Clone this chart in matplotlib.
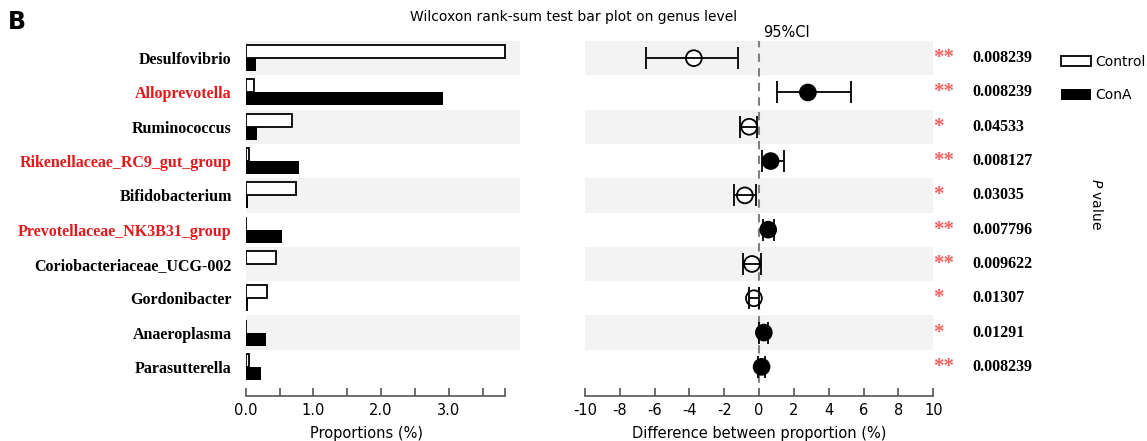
import numpy as np
import matplotlib
matplotlib.use('Agg')
import matplotlib.pyplot as plt

plt.rcParams['axes.unicode_minus'] = False

# genus-level Wilcoxon rank-sum results, Control vs ConA
genera = ['Desulfovibrio', 'Alloprevotella', 'Ruminococcus',
          'Rikenellaceae_RC9_gut_group', 'Bifidobacterium',
          'Prevotellaceae_NK3B31_group', 'Coriobacteriaceae_UCG-002',
          'Gordonibacter', 'Anaeroplasma', 'Parasutterella']
highlight = ['Alloprevotella', 'Rikenellaceae_RC9_gut_group',
             'Prevotellaceae_NK3B31_group']

# mean proportions (%)
control = [3.83, 0.12, 0.68, 0.05, 0.75, 0.01, 0.45, 0.32, 0.01, 0.05]
cona = [0.15, 2.91, 0.17, 0.78, 0.03, 0.54, 0.0, 0.03, 0.30, 0.23]

# difference between proportions with 95% CI
diff = [-3.75, 2.80, -0.57, 0.66, -0.82, 0.52, -0.41, -0.30, 0.27, 0.14]
ci_low = [-6.50, 1.00, -1.10, 0.14, -1.43, 0.25, -0.92, -0.58, 0.02, -0.05]
ci_high = [-1.24, 5.27, -0.10, 1.42, -0.19, 0.85, 0.10, 0.00, 0.50, 0.35]

pvals = ['0.008239', '0.008239', '0.04533', '0.008127', '0.03035',
         '0.007796', '0.009622', '0.01307', '0.01291', '0.008239']

SERIF = 'Liberation Serif'
BAND = '#f3f3f3'
AXCOL = '#555555'

y = np.arange(len(genera))
diff = np.array(diff)
xerr = np.vstack([diff - np.array(ci_low), np.array(ci_high) - diff])

fig = plt.figure(figsize=(11.47, 4.41), dpi=100)
ax1 = fig.add_axes([0.2142, 0.102, 0.2391, 0.805])
ax2 = fig.add_axes([0.5100, 0.102, 0.3037, 0.805])

for ax in (ax1, ax2):
    for i in y[::2]:
        ax.axhspan(i - 0.5, i + 0.5, color=BAND, lw=0, zorder=0)
    ax.set_ylim(9.85, -0.5)
    for s in ('top', 'right', 'left'):
        ax.spines[s].set_visible(False)
    ax.spines['bottom'].set_color(AXCOL)
    ax.spines['bottom'].set_linewidth(1.2)
    ax.tick_params(axis='x', direction='in', length=6, width=1.2,
                   color=AXCOL, labelsize=10.5, pad=5)

# ---- left: proportions
b_ctrl = ax1.barh(y - 0.19, control, height=0.38, color='white',
                  edgecolor='black', lw=1.3, zorder=2)
b_cona = ax1.barh(y + 0.19, cona, height=0.38, color='black', lw=0, zorder=2)

xmax = max(max(control), max(cona))
ticks = list(np.arange(0, 3.6, 0.5)) + [xmax]
ax1.set_xlim(0, 4.05)
ax1.spines['bottom'].set_bounds(0, xmax)
ax1.set_xticks(ticks)
ax1.set_xticklabels(['%.1f' % t if (t == int(t) and t < xmax) else ''
                     for t in ticks])
ax1.set_xlabel('Proportions (%)', fontsize=10.5, labelpad=0)
ax1.xaxis.set_label_coords(0.44, -0.085)

ax1.set_yticks(y)
ax1.set_yticklabels(genera, fontfamily=SERIF, fontweight='bold', fontsize=11.5)
ax1.tick_params(axis='y', length=0, pad=10)
for lab, g in zip(ax1.get_yticklabels(), genera):
    lab.set_color('#e3191c' if g in highlight else 'black')

# ---- right: difference with CI
ax2.set_xlim(-10, 10)
ax2.set_xticks(np.arange(-10, 11, 2))
ax2.set_yticks([])
ax2.set_xlabel('Difference between proportion (%)', fontsize=10.5, labelpad=0)
ax2.xaxis.set_label_coords(0.5, -0.085)

ax2.vlines(0, -0.55, 9.6, colors='#808080', linestyles=(0, (4, 3)),
           lw=1.5, zorder=1)
face = ['white' if d < 0 else 'black' for d in diff]
ax2.scatter(diff, y, s=130, c=face, edgecolors='black', linewidths=1.3,
            zorder=2)
ax2.errorbar(diff, y, xerr=xerr, fmt='none', ecolor='black', elinewidth=1.3,
             capsize=8, capthick=1.3, zorder=3)
ax2.text(0.2, -0.62, '95%CI', fontsize=10.5, ha='left', va='baseline')

for i, p in zip(y, pvals):
    stars = '**' if float(p) < 0.01 else '*'
    ax2.annotate(stars, xy=(1.0, i), xycoords=('axes fraction', 'data'),
                 fontsize=15, fontweight='bold', fontfamily=SERIF,
                 color='#f06262', ha='left', va='center')
    ax2.annotate(p, xy=(1.111, i), xycoords=('axes fraction', 'data'),
                 fontsize=11.5, fontweight='bold', fontfamily=SERIF,
                 ha='left', va='center')

fig.legend([b_ctrl, b_cona], ['Control', 'ConA'], loc='upper left',
           bbox_to_anchor=(0.925, 0.876), frameon=False, fontsize=10,
           handlelength=2.15, handleheight=0.8, labelspacing=1.4,
           handletextpad=0.3, borderpad=0, borderaxespad=0)

fig.text(0.9556, 0.537, '$P$ value', rotation=270, ha='center', va='center',
         fontsize=10)
fig.text(0.5, 0.961, 'Wilcoxon rank-sum test bar plot on genus level',
         ha='center', va='center', fontsize=10)
fig.text(0.007, 0.95, 'B', fontsize=17, fontweight='bold', va='center')

fig.savefig('out.png', dpi=100)
